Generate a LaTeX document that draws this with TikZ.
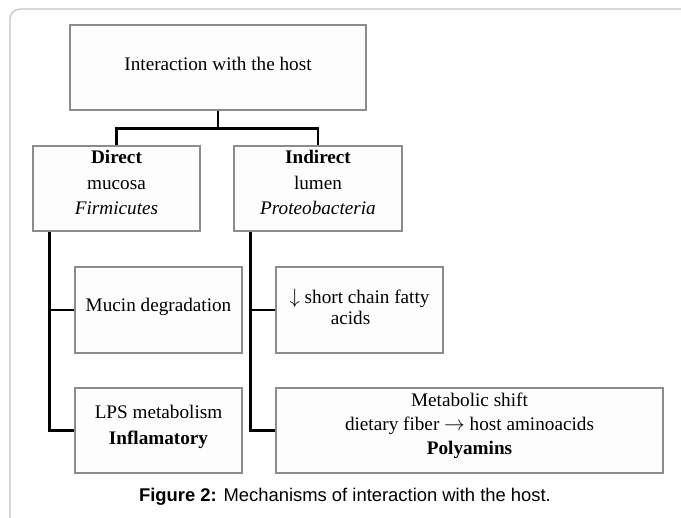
\documentclass[tikz,border=0pt]{standalone}
\usepackage{fontspec}
\setmainfont{Liberation Serif}
\newfontfamily\capfont{Liberation Sans}
\definecolor{boxgray}{HTML}{8C8C8C}
\definecolor{boxfill}{HTML}{FDFDFD}
\definecolor{framegray}{HTML}{C4C4C4}
\begin{document}
\begin{tikzpicture}[x=1pt,y=-1pt,
  box/.style={draw=boxgray, line width=1.1pt, fill=boxfill, inner sep=0pt},
  txt/.style={anchor=base, align=center, inner sep=0pt, font=\fontsize{19.2}{21}\selectfont},
  conn/.style={draw=black, line width=2.1pt},
  frame/.style={draw=framegray, line width=1.2pt, rounded corners=10pt}]
\useasboundingbox (0,0) rectangle (681,518);
\fill[white] (0,0) rectangle (681,518);
\draw[frame] (10,518) -- (10,9) -- (681,9);
% boxes
\node[box, minimum width=296pt, minimum height=85pt] (top) at (218,67.5) {};
\node[box, minimum width=167pt, minimum height=85pt] (direct) at (116.5,188.5) {};
\node[box, minimum width=168pt, minimum height=85pt] (indirect) at (318,188.5) {};
\node[box, minimum width=167pt, minimum height=86pt] (mucin) at (158.5,310) {};
\node[box, minimum width=167pt, minimum height=85pt] (lps) at (158.5,430.5) {};
\node[box, minimum width=167pt, minimum height=86pt] (scfa) at (359.5,310) {};
\node[box, minimum width=387pt, minimum height=85pt] (meta) at (469.5,430.5) {};
% texts (base = last line)
\node[txt] (toptxt) at (218,70.7) {Interaction with the host};
\node[txt] (directtxt) at (116.5,214.3) {\textbf{Direct}\\[4.2pt]mucosa\\[4.2pt]\textit{Firmicutes}};
\node[txt] (indirecttxt) at (318,214.3) {\textbf{Indirect}\\[4.2pt]lumen\\[4.2pt]\textit{Proteobacteria}};
\node[txt] (mucintxt) at (158.5,311.7) {Mucin degradation};
\node[txt] (lpstxt) at (158.5,445) {LPS metabolism\\[5.5pt]\textbf{Inflamatory}};
\node[txt] (scfatxt) at (359.5,325) {$\downarrow$ short chain fatty\\acids\hspace*{18pt}};
\node[txt] (metatxt) at (469.5,455) {Metabolic shift\\[3pt]dietary fiber $\rightarrow$ host aminoacids\\[3pt]\textbf{Polyamins}};
% connectors
\path (top.south) ++(0,18) coordinate (hub);
\draw[conn] (top.south) -- (hub);
\draw[conn] (direct.north) |- (hub) -| (indirect.north);
\path (direct.south west) ++(17,0) coordinate (ltrunk);
\path (indirect.south west) ++(17,0) coordinate (rtrunk);
\draw[conn] (ltrunk) |- (lps.west);
\draw[conn] (ltrunk |- mucin.west) -- (mucin.west);
\draw[conn] (rtrunk) |- (meta.west);
\draw[conn] (rtrunk |- scfa.west) -- (scfa.west);
% caption
\node[anchor=base, inner sep=0pt, font=\capfont\fontsize{18.4}{22}\selectfont] (caption) at (345,501.7) {\textbf{Figure 2:} Mechanisms of interaction with the host.};
\end{tikzpicture}
\end{document}
